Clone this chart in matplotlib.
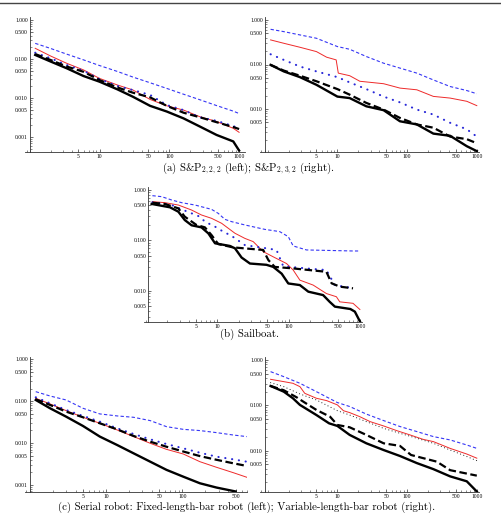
import matplotlib
matplotlib.use("Agg")
from matplotlib import pyplot as plt
from matplotlib.lines import Line2D
from matplotlib.ticker import LogLocator, NullFormatter
import numpy as np

plt.rcParams['mathtext.fontset'] = 'cm'

# ---- data ----
# (a) S&P 2,2,2
sp222_x = [1.2, 2.0, 3.4, 5.9, 10, 18, 30, 53, 92, 160, 275, 475, 825, 1000]
sp222_blue_dash = [0.252, 0.186, 0.133, 0.095, 0.068, 0.048, 0.0345, 0.0246, 0.0176, 0.0125, 0.009, 0.0064, 0.0046, 0.004]
sp222_red = [0.188, 0.119, 0.0774, 0.0525, 0.0318, 0.0216, 0.0161, 0.0092, 0.0063, 0.0049, 0.0033, 0.0025, 0.00167, 0.00132]
sp222_blue_dot = [0.145, 0.104, 0.07, 0.05, 0.0306, 0.0204, 0.016, 0.012, 0.0066, 0.0049, 0.0032, 0.0026, 0.0019, 0.00167]
sp222_black_dash = [0.134, 0.094, 0.064, 0.047, 0.0289, 0.0187, 0.0137, 0.0104, 0.0063, 0.0042, 0.0032, 0.0024, 0.0018, 0.0016]
sp222_black = [0.127, 0.0859, 0.0577, 0.0366, 0.0262, 0.0167, 0.0108, 0.0063, 0.0045, 0.003, 0.00185, 0.00113, 0.00077, 0.00045]

# (a) S&P 2,3,2
sp232_x = [1.1, 1.7, 2.9, 5.0, 10, 15, 26, 46, 79, 138, 238, 414, 718, 1000]
sp232_blue_dash = [0.618, 0.548, 0.462, 0.389, 0.253, 0.22, 0.151, 0.107, 0.083, 0.064, 0.045, 0.032, 0.026, 0.022]
sp232_blue_dot = [0.17, 0.127, 0.09, 0.07, 0.052, 0.0396, 0.028, 0.019, 0.0141, 0.0097, 0.0075, 0.0049, 0.0035, 0.0024]
sp232_black_dash = [0.098, 0.073, 0.056, 0.042, 0.028, 0.021, 0.0137, 0.0097, 0.0063, 0.0045, 0.0038, 0.0024, 0.0021, 0.0017]
sp232_black = [0.098, 0.07, 0.052, 0.035, 0.019, 0.0176, 0.0115, 0.0094, 0.0053, 0.0045, 0.0028, 0.0025, 0.00146, 0.00113]
sp232_red_x = [1.1, 1.7, 2.9, 5.0, 7.0, 8.8, 9.6, 10.3, 15, 21, 46, 79, 138, 238, 414, 718, 1000]
sp232_red = [0.357, 0.30, 0.244, 0.195, 0.146, 0.132, 0.127, 0.064, 0.056, 0.042, 0.037, 0.0295, 0.027, 0.0192, 0.0176, 0.0149, 0.0119]

# (b) Sailboat
boat_blue_dash_x = [1.23, 1.66, 2.29, 3.16, 4.86, 8.3, 10.3, 12.8, 15.9, 24.4, 46.5, 75, 99, 116, 178, 800, 945]
boat_blue_dash = [0.772, 0.738, 0.634, 0.561, 0.504, 0.414, 0.345, 0.262, 0.236, 0.203, 0.166, 0.15, 0.119, 0.078, 0.065, 0.062, 0.062]
boat_red_x = [1.23, 1.85, 2.84, 4.36, 6.0, 8.3, 11.5, 14.3, 17.7, 24.4, 31.9, 44.2, 67.7, 93.5, 116, 144, 221, 339, 468, 522, 801, 1000]
boat_red = [0.588, 0.561, 0.504, 0.401, 0.32, 0.275, 0.219, 0.174, 0.139, 0.11, 0.095, 0.06, 0.044, 0.035, 0.026, 0.0164, 0.0131, 0.0089, 0.0077, 0.0061, 0.0057, 0.0043]
boat_blue_dot_x = [1.23, 2.29, 3.16, 4.36, 5.7, 6.7, 9.3, 12.1, 15.9, 24.4, 49, 67.7, 84, 178, 339, 446, 801]
boat_blue_dot = [0.57, 0.504, 0.414, 0.345, 0.296, 0.236, 0.188, 0.15, 0.123, 0.081, 0.07, 0.065, 0.031, 0.028, 0.026, 0.013, 0.0114]
boat_black_dash_x = [1.23, 1.85, 2.84, 3.5, 5.1, 6.7, 8.3, 10.3, 16.7, 44, 52, 64, 116, 339, 401, 522, 801]
boat_black_dash = [0.561, 0.528, 0.433, 0.296, 0.203, 0.182, 0.128, 0.085, 0.073, 0.065, 0.041, 0.03, 0.028, 0.024, 0.0142, 0.0122, 0.0113]
boat_black_x = [1.2, 2.17, 2.84, 3.5, 4.36, 6.0, 7.5, 9.3, 15, 17.7, 21.9, 28.7, 49, 61, 80, 99, 144, 189, 305, 377, 446, 735, 850, 1000]
boat_black = [0.53, 0.454, 0.372, 0.254, 0.2, 0.182, 0.138, 0.088, 0.078, 0.07, 0.046, 0.035, 0.033, 0.03, 0.022, 0.0141, 0.0131, 0.0097, 0.0083, 0.0061, 0.0049, 0.0044, 0.0039, 0.0025]

# (c) Fixed-length-bar robot
fixed_x = [1.2, 1.85, 3.0, 5.0, 8.3, 14, 23, 38, 62, 103, 170, 280, 465, 700]
fixed_blue_dash = [0.169, 0.133, 0.107, 0.0677, 0.0497, 0.0445, 0.0413, 0.0344, 0.0247, 0.0213, 0.0199, 0.0178, 0.0156, 0.0143]
fixed_red = [0.117, 0.086, 0.0596, 0.0413, 0.0297, 0.0206, 0.0143, 0.0099, 0.0071, 0.0055, 0.0036, 0.00265, 0.00197, 0.00153]
fixed_blue_dot = [0.124, 0.089, 0.0618, 0.0445, 0.0325, 0.0226, 0.0165, 0.0123, 0.0095, 0.0075, 0.0059, 0.00475, 0.0041, 0.0036]
fixed_black_dash = [0.111, 0.0813, 0.0564, 0.0413, 0.0297, 0.0213, 0.0148, 0.0108, 0.0082, 0.0063, 0.0049, 0.004, 0.0033, 0.00285]
fixed_black_x = [1.2, 1.85, 3.0, 5.0, 8.3, 14, 23, 38, 62, 103, 170, 280, 500]
fixed_black = [0.107, 0.0677, 0.0428, 0.0256, 0.0143, 0.009, 0.0057, 0.0036, 0.0023, 0.00158, 0.0011, 0.00087, 0.0007]

# (c) Variable-length-bar robot
var_x = [1.1, 1.7, 2.9, 5.0, 10, 15, 26, 46, 79, 138, 238, 414, 718, 1000]
var_blue_dash = [0.553, 0.429, 0.306, 0.2, 0.115, 0.094, 0.064, 0.046, 0.034, 0.0263, 0.0204, 0.0172, 0.0133, 0.0112]
var_black_dot = [0.316, 0.258, 0.178, 0.131, 0.076, 0.061, 0.0436, 0.031, 0.0241, 0.0187, 0.0145, 0.0103, 0.0074, 0.006]
var_red_x = [1.1, 1.7, 2.3, 2.9, 3.4, 5.0, 7.0, 10, 12.2, 15, 21, 29.5, 46, 71, 110, 170, 238, 414, 718, 1000]
var_red = [0.375, 0.333, 0.306, 0.258, 0.184, 0.143, 0.127, 0.102, 0.076, 0.069, 0.056, 0.0436, 0.035, 0.0276, 0.0222, 0.0177, 0.0158, 0.0112, 0.0084, 0.0068]
var_black_dash_x = [1.1, 1.7, 2.6, 3.25, 5.0, 7.85, 10, 15, 26, 46, 79, 114, 171, 267, 414, 1000]
var_black_dash = [0.267, 0.215, 0.15, 0.12, 0.079, 0.056, 0.0368, 0.0327, 0.0222, 0.0145, 0.0127, 0.008, 0.0068, 0.0057, 0.0037, 0.0028]
var_black_x = [1.1, 1.7, 2.3, 2.9, 5.0, 7.6, 10, 15, 26, 46, 79, 138, 238, 414, 718, 1000]
var_black = [0.267, 0.2, 0.143, 0.102, 0.061, 0.04, 0.035, 0.0222, 0.0145, 0.0103, 0.0076, 0.0053, 0.0039, 0.0027, 0.0021, 0.00125]

x_ticks = [5, 10, 50, 100, 500, 1000]
x_labels = ['5', '10', '50', '100', '500', '1000']
y_ticks = [0.001, 0.005, 0.01, 0.05, 0.1, 0.5, 1.0]
y_labels = ['0.001', '0.005', '0.010', '0.050', '0.100', '0.500', '1.000']

captions = [
    r"(a) S&P$_{2,2,2}$ (left); S&P$_{2,3,2}$ (right).",
    "(b) Sailboat.",
    "(c) Serial robot: Fixed-length-bar robot (left); Variable-length-bar robot (right).",
]

# ---- layout (pixels of the 501x513 picture) ----
W, H = 501, 513
# ext_left, yaxis_x, right, x_at_1, px_per_decade_x, top, bottom, y_at_1, px_per_decade_y
geo_a_left = (25, 30, 245, 29.7, 69.8, 17, 152, 20, 39.0)
geo_a_right = (260, 265, 479, 267.7, 69.7, 17, 152, 20, 44.5)
geo_b = (143.5, 148.3, 362, 146, 71.3, 187, 321.7, 190, 50.5)
geo_c_left = (25, 30, 247, 29.7, 76.3, 357, 491.7, 359.3, 41.9)
geo_c_right = (260, 265, 479, 267.7, 69.7, 357, 491.7, 360, 45.3)

BLUE = '#3535f5'
BLUE_DOT = '#2828d8'
RED = '#ee2a2a'

fig = plt.figure(figsize=(W / 100, H / 100), dpi=100)


def make_axes(geo):
    lext, ly, r, p0, d, t, b, y0, dy = geo
    ax = fig.add_axes([lext / W, 1 - b / H, (r - lext) / W, (b - t) / H])
    ax.set_xscale('log')
    ax.set_yscale('log')
    ax.set_xlim(10 ** ((lext - p0) / d), 10 ** ((r - p0) / d))
    ax.set_ylim(10 ** (-(b - y0) / dy), 10 ** ((y0 - t) / dy))
    ax.spines['left'].set_position(('data', 10 ** ((ly - p0) / d)))
    ax.spines['top'].set_visible(False)
    ax.spines['right'].set_visible(False)
    for s in ('left', 'bottom'):
        ax.spines[s].set_linewidth(0.6)
        ax.spines[s].set_color('#333333')
    ax.set_facecolor('none')
    x0, x1 = ax.get_xlim()
    y0_, y1 = ax.get_ylim()
    xt = [v for v in x_ticks if x0 <= v <= x1]
    ax.set_xticks(xt, [x_labels[x_ticks.index(v)] for v in xt])
    yt = [v for v in y_ticks if y0_ <= v <= y1]
    ax.set_yticks(yt, [y_labels[y_ticks.index(v)] for v in yt])
    ax.xaxis.set_minor_locator(LogLocator(base=10, subs=np.arange(1, 10)))
    ax.yaxis.set_minor_locator(LogLocator(base=10, subs=np.arange(1, 10)))
    ax.xaxis.set_minor_formatter(NullFormatter())
    ax.yaxis.set_minor_formatter(NullFormatter())
    ax.tick_params(which='major', direction='in', length=2.2, width=0.5,
                   labelsize=4, pad=1.5, color='#333333')
    ax.tick_params(which='minor', direction='in', length=1.1, width=0.4, color='#333333')
    for lab in ax.get_xticklabels() + ax.get_yticklabels():
        lab.set_family('Liberation Serif')
    return ax


def blue_dash(ax, x, y):
    ax.plot(x, y, color=BLUE, lw=0.8, dashes=(3, 2))


def red(ax, x, y):
    ax.plot(x, y, color=RED, lw=0.7)


def blue_dot(ax, x, y):
    ax.plot(x, y, color=BLUE_DOT, lw=1.5, dashes=(0.1, 3.2), dash_capstyle='round')


def black_dash(ax, x, y):
    ax.plot(x, y, color='black', lw=1.6, dashes=(3.4, 1.6))


def black(ax, x, y):
    ax.plot(x, y, color='black', lw=1.7)


ax = make_axes(geo_a_left)
blue_dash(ax, sp222_x, sp222_blue_dash)
red(ax, sp222_x, sp222_red)
blue_dot(ax, sp222_x, sp222_blue_dot)
black_dash(ax, sp222_x, sp222_black_dash)
black(ax, sp222_x, sp222_black)

ax = make_axes(geo_a_right)
blue_dash(ax, sp232_x, sp232_blue_dash)
red(ax, sp232_red_x, sp232_red)
blue_dot(ax, sp232_x, sp232_blue_dot)
black_dash(ax, sp232_x, sp232_black_dash)
black(ax, sp232_x, sp232_black)

ax = make_axes(geo_b)
blue_dash(ax, boat_blue_dash_x, boat_blue_dash)
red(ax, boat_red_x, boat_red)
blue_dot(ax, boat_blue_dot_x, boat_blue_dot)
black_dash(ax, boat_black_dash_x, boat_black_dash)
black(ax, boat_black_x, boat_black)

ax = make_axes(geo_c_left)
blue_dash(ax, fixed_x, fixed_blue_dash)
red(ax, fixed_x, fixed_red)
blue_dot(ax, fixed_x, fixed_blue_dot)
black_dash(ax, fixed_x, fixed_black_dash)
black(ax, fixed_black_x, fixed_black)

ax = make_axes(geo_c_right)
blue_dash(ax, var_x, var_blue_dash)
red(ax, var_red_x, var_red)
ax.plot(var_x, var_black_dot, color='#222222', lw=0.8, dashes=(0.1, 3.0), dash_capstyle='round')
black_dash(ax, var_black_dash_x, var_black_dash)
black(ax, var_black_x, var_black)

# captions
for (cx, base), text in zip([(248, 170.5), (249, 336.5), (247, 509.5)], captions):
    fig.text(cx / W, 1 - base / H, text, ha='center', va='baseline',
             fontsize=7.8, family='cmr10')

# rule at the top of the page
fig.add_artist(Line2D([0, 1], [1 - 2.5 / H, 1 - 2.5 / H], color='#444444', lw=1.0))

fig.savefig('out.png', dpi=100)
